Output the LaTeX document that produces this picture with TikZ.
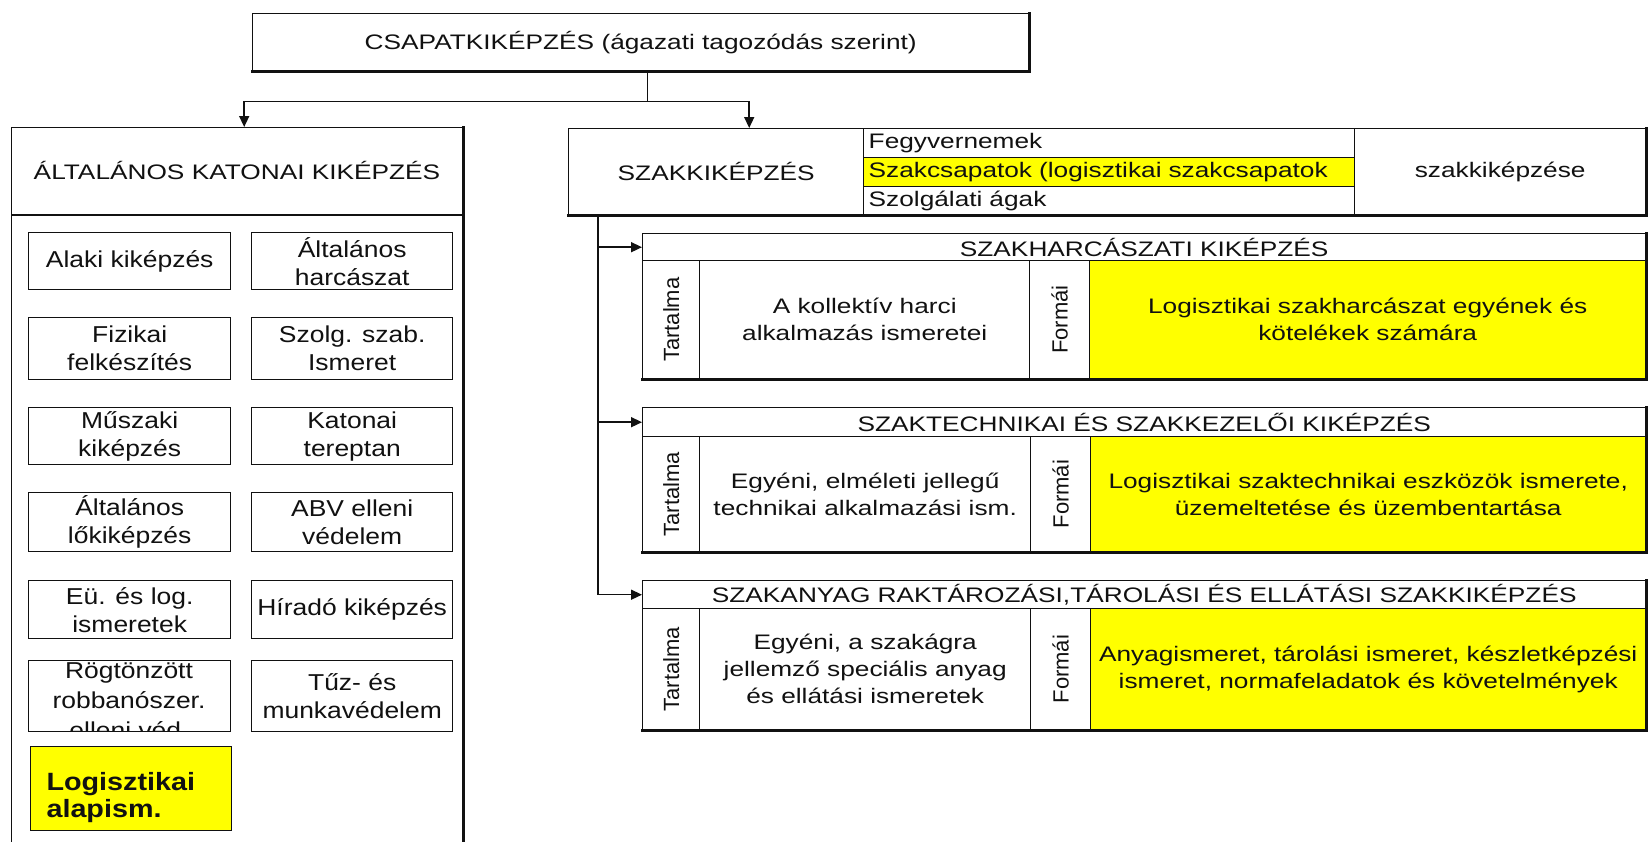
\documentclass[tikz,border=0pt]{standalone}
\usepackage{fontspec}
\setmainfont{Liberation Sans}[FakeStretch=1.25]
\newfontfamily\boxfont{Liberation Sans}[FakeStretch=1.15]
\newfontfamily\rotfont{Liberation Sans}
\usepackage{tikz}
\usetikzlibrary{calc,arrows.meta}
\definecolor{ink}{HTML}{111111}
\definecolor{yel}{HTML}{FFFF00}
\tikzset{
  box/.style={draw=ink, line width=1.4pt, rectangle, inner sep=0pt, anchor=north west},
  sz/.style 2 args={minimum width=#1, minimum height=#2},
  shd/.style={draw=ink, line width=3pt, line cap=rect},
  lab/.style={text=ink, font=\fontsize{21}{27}\selectfont, align=center},
  labs/.style={text=ink, font=\boxfont\fontsize{23}{28}\selectfont, align=center},
  rot/.style={text=ink, font=\rotfont\fontsize{22}{26}\selectfont, rotate=90},
  hl/.style={fill=yel},
  wire/.style={draw=ink, line width=1.5pt},
  arr/.style={wire, -{Triangle[length=11pt,width=10pt]}},
}

\begin{document}
\begin{tikzpicture}[x=1pt, y=-1pt]
  \fill[white] (0,0) rectangle (1648,841);
  \useasboundingbox (0,0) rectangle (1648,841);

  % top
  \node[box, sz={776}{57}, lab] (top) at (252,13) {CSAPATKIKÉPZÉS (ágazati tagozódás szerint)};
  \draw[shd] (top.north east) -- (top.south east) -- (top.south west);

  % left column
  \node[box, sz={451}{740}] (alt) at (11,127) {};
  \draw[shd] (alt.north east) -- (alt.south east);
  \node[lab] (alttitle) at (237,170) {ÁLTALÁNOS KATONAI KIKÉPZÉS};
  \draw[wire] (alt.west |- 0,215) -- (alt.east |- 0,215);

  \node[box, sz={202}{57}, labs] (alaki) at (28,232) {Alaki kiképzés};
  \node[box, sz={201}{57}, labs] (harc) at (251,232) {Általános\\harcászat};
  \node[box, sz={202}{62}, labs] (fiz) at (28,317) {Fizikai\\felkészítés};
  \node[box, sz={201}{62}, labs] (szolg) at (251,317) {Szolg. szab.\\Ismeret};
  \node[box, sz={202}{57}, labs] (musz) at (28,407) {Műszaki\\kiképzés};
  \node[box, sz={201}{57}, labs] (terep) at (251,407) {Katonai\\tereptan};
  \node[box, sz={202}{59}, labs] (lo) at (28,492) {Általános\\lőkiképzés};
  \node[box, sz={201}{59}, labs] (abv) at (251,492) {ABV elleni\\védelem};
  \node[box, sz={202}{58}, labs] (eu) at (28,580) {Eü. és log.\\ismeretek};
  \node[box, sz={201}{58}, labs] (hir) at (251,580) {Híradó kiképzés};
  \begin{scope}
    \clip (28,661) rectangle (230,731);
    \node[labs, font=\boxfont\fontsize{23}{30}\selectfont] (rogtxt) at (129,701) {Rögtönzött\\robbanószer.\\elleni véd.};
  \end{scope}
  \node[box, sz={202}{71}] (rog) at (28,660) {};
  \node[box, sz={201}{71}, labs] (tuz) at (251,660) {Tűz- és\\munkavédelem};
  \node[box, hl, sz={201}{84}] (logalap) at (30,746) {};
  \node[labs, anchor=west, align=left, font=\boxfont\bfseries\fontsize{25}{27}\selectfont] (logtxt) at (43,798) {Logisztikai\\alapism.};

  % right column
  \node[box, sz={1077}{86}] (szak) at (568,128) {};
  \node[box, sz={295}{86}, lab] (szakname) at (568,128) {SZAKKIKÉPZÉS};
  \node[box, sz={491}{29}, lab, align=left, text width=481pt] (fegyv) at (863,128) {Fegyvernemek};
  \node[box, hl, sz={491}{29}, lab, align=left, text width=481pt] (szcs) at (863,157) {Szakcsapatok (logisztikai szakcsapatok};
  \node[box, sz={491}{28}, lab, align=left, text width=481pt] (szag) at (863,186) {Szolgálati ágak};
  \node[box, sz={291}{86}, lab] (szakkep) at (1354,128) {szakkiképzése};
  \draw[shd] (szak.north east) -- (szak.south east) -- (szak.south west);

  % panel 1
  \node[box, sz={1003}{145}] (p1) at (642,233) {};
  \node[box, sz={1003}{27}, lab] (p1head) at (642,233) {SZAKHARCÁSZATI KIKÉPZÉS};
  \node[box, sz={57}{118}] (p1t) at (642,260) {};
  \node[rot] (p1tl) at (p1t.center) {Tartalma};
  \node[box, sz={330}{118}, lab] (p1c) at (699,260) {A kollektív harci\\alkalmazás ismeretei};
  \node[box, sz={60}{118}] (p1f) at (1029,260) {};
  \node[rot] (p1fl) at (p1f.center) {Formái};
  \node[box, hl, sz={556}{118}, lab] (p1y) at (1089,260) {Logisztikai szakharcászat egyének és\\kötelékek számára};
  \draw[shd] (p1.north east) -- (p1.south east) -- (p1.south west);

  % panel 2
  \node[box, sz={1003}{144}] (p2) at (642,407) {};
  \node[box, sz={1003}{29}, lab] (p2head) at (642,407) {SZAKTECHNIKAI ÉS SZAKKEZELŐI KIKÉPZÉS};
  \node[box, sz={57}{115}] (p2t) at (642,436) {};
  \node[rot] (p2tl) at (p2t.center) {Tartalma};
  \node[box, sz={331}{115}, lab] (p2c) at (699,436) {Egyéni, elméleti jellegű\\technikai alkalmazási ism.};
  \node[box, sz={60}{115}] (p2f) at (1030,436) {};
  \node[rot] (p2fl) at (p2f.center) {Formái};
  \node[box, hl, sz={555}{115}, lab] (p2y) at (1090,436) {Logisztikai szaktechnikai eszközök ismerete,\\üzemeltetése és üzembentartása};
  \draw[shd] (p2.north east) -- (p2.south east) -- (p2.south west);

  % panel 3
  \node[box, sz={1003}{149}] (p3) at (642,580) {};
  \node[box, sz={1003}{28}, lab] (p3head) at (642,580) {SZAKANYAG RAKTÁROZÁSI,TÁROLÁSI ÉS ELLÁTÁSI SZAKKIKÉPZÉS};
  \node[box, sz={57}{121}] (p3t) at (642,608) {};
  \node[rot] (p3tl) at (p3t.center) {Tartalma};
  \node[box, sz={331}{121}, lab] (p3c) at (699,608) {Egyéni, a szakágra\\jellemző speciális anyag\\és ellátási ismeretek};
  \node[box, sz={60}{121}] (p3f) at (1030,608) {};
  \node[rot] (p3fl) at (p3f.center) {Formái};
  \node[box, hl, sz={555}{121}, lab] (p3y) at (1090,608) {Anyagismeret, tárolási ismeret, készletképzési\\ismeret, normafeladatok és követelmények};
  \draw[shd] (p3.north east) -- (p3.south east) -- (p3.south west);

  % connectors
  \draw[wire] ([xshift=7pt]top.south) -- ++(0,30) coordinate (fork);
  \draw[arr] (fork) -| ([xshift=7pt]alt.north);
  \draw[arr] (fork) -| ([xshift=33pt]szakname.north);
  \coordinate (trunk) at ([xshift=30pt]szak.south west);
  \draw[arr] (trunk) |- (p3head.west);
  \draw[arr] (trunk |- p1head.west) -- (p1head.west);
  \draw[arr] (trunk |- p2head.west) -- (p2head.west);
\end{tikzpicture}
\end{document}
